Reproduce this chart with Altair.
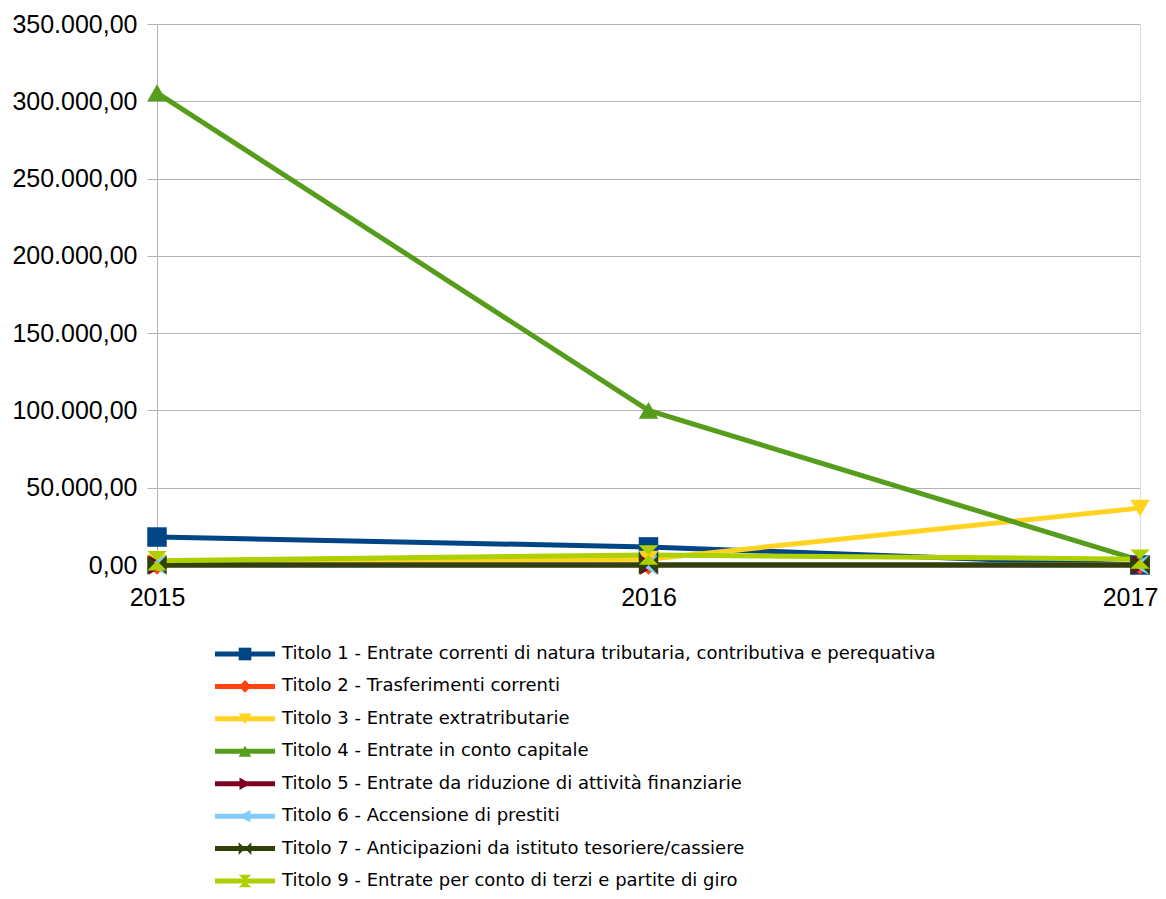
import altair as alt
import pandas as pd

years = ["2015", "2016", "2017"]
series = [
    "Titolo 1 - Entrate correnti di natura tributaria, contributiva e perequativa",
    "Titolo 2 - Trasferimenti correnti",
    "Titolo 3 - Entrate extratributarie",
    "Titolo 4 - Entrate in conto capitale",
    "Titolo 5 - Entrate da riduzione di attività finanziarie",
    "Titolo 6 - Accensione di prestiti",
    "Titolo 7 - Anticipazioni da istituto tesoriere/cassiere",
    "Titolo 9 - Entrate per conto di terzi e partite di giro",
]
values = [
    [18100, 11700, 0],
    [0, 0, 0],
    [1500, 3800, 36800],
    [305500, 100000, 3000],
    [0, 0, 0],
    [0, 0, 0],
    [0, 0, 0],
    [2800, 6500, 3800],
]
colors = ["#004586", "#ff420e", "#ffd320", "#579d1c", "#7e0021", "#83caff", "#314004", "#aecf00"]
shapes = [
    "square", "diamond", "triangle-down", "triangle-up", "triangle-right", "triangle-left",
    "M-1,-1L0,0L-1,1Z M1,-1L0,0L1,1Z",
    "M-1,-1L1,-1L0,0Z M-1,1L1,1L0,0Z",
]
y_ticks = [0, 50000, 100000, 150000, 200000, 250000, 300000, 350000]

rows = []
for i, (s, vals) in enumerate(zip(series, values)):
    for j, (y, v) in enumerate(zip(years, vals)):
        rows.append({"series": s, "year": y, "yi": j, "value": v, "order": i})
df = pd.DataFrame(rows)
leg_df = pd.DataFrame({"series": series, "order": list(range(len(series)))})

color_scale = alt.Scale(domain=series, range=colors)
shape_scale = alt.Scale(domain=series, range=shapes)

x_enc = alt.X("year:O", scale=alt.Scale(type="point", domain=years, padding=0),
              axis=alt.Axis(grid=False, ticks=False, tickSize=0, labelAngle=0,
                            labelPadding=20, labelFontSize=25, labelFont="Liberation Sans",
                            labelColor="#000000", domainColor="#b3b3b3", title=None,
                            labelFlush=False, labelOverlap=False, labelBound=False,
                            labelOffset=alt.condition("datum.value == '2017'", alt.value(-10), alt.value(0))))
y_enc = alt.Y("value:Q", scale=alt.Scale(domain=[0, 350000], nice=False),
              axis=alt.Axis(values=y_ticks, grid=True, gridColor="#b3b3b3", tickColor="#b3b3b3",
                            tickSize=10, labelPadding=10, labelFontSize=25,
                            labelFont="Liberation Sans", labelColor="#000000",
                            domainColor="#b3b3b3", title=None,
                            labelFlush=False, labelOverlap=False, labelBound=False,
                            labelExpr="replace(replace(replace(format(datum.value, ',.2f'), '.', ';'), ',', '.'), ';', ',')"))

base = alt.Chart(df)
lines = base.mark_line(strokeWidth=5).encode(
    x=x_enc, y=y_enc,
    color=alt.Color("series:N", scale=color_scale, legend=None),
    order=alt.Order("yi:Q"),
    detail="series:N",
)
points = base.mark_point(filled=True, size=380, opacity=1).encode(
    x=x_enc, y=y_enc,
    color=alt.Color("series:N", scale=color_scale, legend=None),
    shape=alt.Shape("series:N", scale=shape_scale, legend=None),
    order=alt.Order("order:Q"),
)
main = alt.layer(lines, points)

leg_y = alt.Y("series:N", scale=alt.Scale(type="point", domain=series, range=[630, 857], padding=0), axis=None)
leg_base = alt.Chart(leg_df)
leg_line = leg_base.mark_rule(strokeWidth=5).encode(
    x=alt.value(58), x2=alt.value(118), y=leg_y,
    color=alt.Color("series:N", scale=color_scale, legend=None),
)
leg_pt = leg_base.mark_point(filled=True, size=160, opacity=1).encode(
    x=alt.value(88), y=leg_y,
    color=alt.Color("series:N", scale=color_scale, legend=None),
    shape=alt.Shape("series:N", scale=shape_scale, legend=None),
)
leg_txt = leg_base.mark_text(align="left", baseline="middle", font="DejaVu Sans", fontSize=18, color="#000000").encode(
    x=alt.value(125), y=leg_y, text="series:N",
)
legend = alt.layer(leg_line, leg_pt, leg_txt)

chart = alt.layer(main, legend).resolve_scale(y="independent", x="independent").properties(
    width=983, height=541,
    autosize=alt.AutoSizeParams(type="none"),
    padding={"left": 149, "top": 16, "right": 18, "bottom": 326},
).configure_view(stroke="#b3b3b3", strokeWidth=1).configure(background="#ffffff")

chart.save("out.html", embed_options={"renderer": "svg", "actions": False})
